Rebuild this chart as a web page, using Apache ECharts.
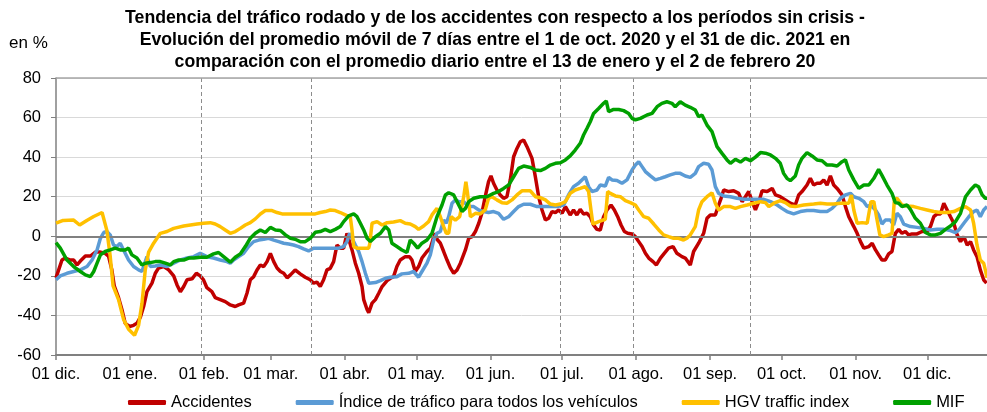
<!DOCTYPE html>
<html>
<head>
<meta charset="utf-8">
<script src="https://cdn.jsdelivr.net/npm/echarts@6/dist/echarts.min.js"></script>
<style>
  html, body { margin: 0; padding: 0; background: #fff; }
  #chart { width: 987px; height: 412px; }
</style>
</head>
<body>
<div id="chart"></div>
<script>
// x = days since 01 dic. 2020
const monthStarts = [0, 31, 62, 90, 121, 151, 182, 212, 243, 274, 304, 335, 365]
const monthLabels = ['01 dic.', '01 ene.', '01 feb.', '01 mar.', '01 abr.', '01 may.', '01 jun.',
    '01 jul.', '01 ago.', '01 sep.', '01 oct.', '01 nov.', '01 dic.']
const markerDays = [61, 107, 211.4, 241.7, 291]
const yTicks = [-60, -40, -20, 0, 20, 40, 60, 80]

const accidentes = [[0,-21],[2.5,-12],[3.9,-11],[6,-12],[7.4,-12],[8.8,-14.5],[10.2,-12.5],[12.3,-10],[14.4,-10],[16.5,-8],[18.6,-8],[20.6,-8.6],[22,-10],[23.4,-17],[24.4,-25],[26.2,-31],[27.6,-37],[29,-44],[30.8,-45.6],[32.5,-45],[33.9,-44],[35.3,-41],[36.7,-35.5],[38.1,-28],[40.2,-23.7],[41.6,-18.7],[43,-16],[45.1,-15.3],[47.2,-17],[49.3,-20],[50.7,-24.6],[52.1,-28],[53.5,-25.4],[54.9,-22],[57,-21.5],[58.8,-18.7],[60.4,-20],
    [61.8,-22],[63.2,-26],[65.3,-28],[66.7,-31],[68.8,-32],[70.9,-33],[73,-34.7],[75.1,-35.5],[76.5,-34.7],[78.6,-33.8],[80,-28.8],[81.4,-22],[82.8,-20.4],[84.2,-17],[85.6,-14.5],[87,-15.3],[88.4,-12.8],[89.8,-8.6],[91.2,-12.8],[92.6,-16],[94,-17.8],[95.4,-18.7],[96.8,-21],[98.2,-19.5],[100.2,-17],[102.3,-19],[104.4,-20.7],[106.5,-22],[107.9,-23.7],[109.3,-23.2],[110.7,-25.4],[112.1,-22],[113.5,-17],[114.9,-16.2],[116.3,-12.8],[117.7,-4.4],[119.1,-6],[120.5,-6],[121.9,1.5],[122.6,1.9],[124,-6.9],[125.4,-13.6],[126.8,-18.7],
    [128.2,-25.4],[128.9,-32],[130.3,-37],[131,-38.6],[132.4,-33.8],[133.8,-32],[135.2,-28.8],[136.6,-25.4],[138.7,-22.4],[140.1,-21.2],[141.4,-20.4],[142.8,-15.3],[144.2,-12],[146.3,-10.3],[148.1,-10.3],[149.1,-12],[150.5,-17.8],[151.9,-15.3],[153.3,-11],[155.4,-7.7],[156.8,-6],[158.2,-0.5],[158.9,1.5],[159.6,-1.5],[161,-3.5],[162.4,-7.7],[163.8,-12],[165.2,-16],[166.6,-18.7],[168,-17],[169.4,-13.6],[171.5,-6.9],[172.9,-1],[174.3,-0.2],[175.7,2.4],[177.1,6.6],[178.4,11.6],[179.8,20],[181.2,27.6],[182.2,30.5],[183.3,26.8],[184.7,23.4],[186.1,20.9],[187.5,19.2],[188.9,20],[190.3,28.5],[191.7,40.2],[193.1,44.4],[194.5,47.8],[195.9,48.7],[197.3,45.3],
    [199.4,39.4],[200.8,30.1],[202.2,20],[203.6,13.3],[205,8.2],[206.4,9.1],[207.8,12.5],[209.2,12],[210.6,13.3],[212,11.6],[213.4,15],[215.4,10.8],[216.8,13.3],[218.2,10.8],[219.6,13.6],[221,11.3],[222.4,11.6],[223.8,9.9],[225.2,5.7],[226.6,3.5],[228,3.2],[229.4,9.9],[230.8,13.3],[232.5,15.8],[233.9,13.3],[235.3,9.9],[236.7,5.7],[238.1,2.4],[239.5,1.5],[241.3,1.2],[242.7,-0.2],[244.1,-2.7],[245.5,-5.2],[246.9,-8.6],[248.3,-11],[250.1,-12.8],[251.5,-14.5],[253.2,-11],[254.8,-8.6],[256.6,-6],[258.5,-5.2],[260.1,-8.6],[262.2,-10.3],[263.6,-11],[265.7,-14.5],
    [267.1,-7.7],[269.2,-3.5],[271.3,1.5],[272.7,9.1],[274.1,10.8],[276.2,10.8],[277.6,15.8],[278.6,19.2],[279.7,23.4],[281.8,22.6],[283.9,23],[286,21.7],[287.4,17.5],[288.8,20],[290.2,22.6],[291.6,17.5],[293,13.3],[294.4,17.5],[295.8,23],[297.9,22.6],[300,24.2],[301.4,20.9],[303.4,20],[305.5,18.4],[307.6,16.7],[309.7,15.8],[311.1,20.9],[312.5,22.6],[314.6,25.9],[316,29.3],[317.4,25.9],[318.8,26.8],[320.2,26.8],[321.6,28.5],[323,25.9],[324.4,30.5],
    [325.8,25.9],[327.2,24.2],[329.3,20.9],[330.7,15],[332.1,9.9],[334.2,4.9],[335.6,1.5],[337,-2.7],[338.4,-6],[340.5,-5.2],[341.9,-3.5],[343.3,-6.9],[344.6,-9.4],[346,-12],[347.4,-12],[348.8,-8.9],[350.2,-7.7],[351.6,1.5],[353,3.5],[354.4,1.5],[355.8,2.4],[357.2,0.7],[358.6,1.2],[360.7,1.2],[362.8,2.4],[364.9,2.4],[366.3,4.9],[367.7,9.9],[369.1,11.3],[370.5,11.3],[371.9,16.7],[373.3,13.3],[374.7,9.9],[376.1,6.6],[377.5,0.7],[378.9,-2.7],[380.3,-0.2],[381.7,-4.4],[383.1,-2.7],[384.4,-6.9],[385.8,-10.3],[387.2,-17],[388.6,-22],[389.8,-23.7]]

const indiceTrafico = [[0,-22],[1.8,-20],[4.6,-18.7],[7.4,-17.8],[10.2,-17],[13,-15.3],[15.1,-12],[17.2,-6.9],[18.6,-1],[20,1.9],[21.3,2.4],[22.7,0.7],[24.1,-4.4],[25.5,-5.2],[26.9,-3.5],[28.3,-6.9],[30.4,-12],[32.5,-15.3],[34.6,-17],[36,-17.8],[38.1,-10.3],[39.5,-15.3],[41.6,-15],[43.7,-14.5],[46.5,-15.3],[49.3,-13.6],[52.1,-12],[54.9,-11],[57.7,-10.3],[60.4,-8.6],
    [63.2,-10.3],[66,-11],[68.8,-12],[71.6,-12.8],[73,-13.6],[74.4,-12],[76.5,-10.3],[78.6,-8.6],[80.7,-5.2],[82.8,-2.7],[84.9,-1.9],[87,-1.5],[89.1,-1],[91.2,-1.9],[93.3,-2.7],[95.4,-3.5],[97.5,-3.9],[99.5,-4.4],[101.6,-5.2],[103.7,-6.4],[105.8,-7.4],[107.9,-6],[110.7,-6],[113.5,-6],[116.3,-6],[118.4,-6],[120.5,-5.2],[121.9,-2.7],[123,1.5],[124,-1],[125.4,-4.4],[126.8,-7.7],[128.2,-12.8],[129.6,-18.7],[131,-23.7],[131.7,-24.6],
    [133.8,-23.4],[135.9,-22.4],[138,-21.2],[140.1,-20.7],[142.8,-20.4],[144.9,-19],[147.7,-18.7],[149.8,-17.8],[151.9,-20.7],[153.3,-17.8],[155.4,-13.6],[156.8,-9.4],[158.2,-1.9],[159.6,1.5],[161,2.4],[162.4,8.2],[163.5,6.6],[164.5,9.9],[165.9,16.7],[167.3,18.4],[168.7,17.5],[170.8,17.5],[172.9,15],[175,15],[177.1,13.3],[179.1,12.5],[181.2,12],[183.3,12.5],[185.4,11.6],[187.5,8.6],[189.6,9.9],[191.7,12.5],[193.8,15],[195.9,16.2],[198.7,16.2],
    [201.5,15],[204.3,15],[207.1,15],[209.9,15],[212.7,15.8],[214.7,20.9],[216.8,25.1],[218.9,26.8],[220.3,28.5],[221.7,30.1],[223.1,25.1],[224.5,22.6],[226.6,23.4],[228,25.9],[230.1,25.4],[231.5,29.8],[232.9,28.5],[235,28.2],[237.1,26.8],[239.2,28.5],[241.3,33.5],[242.7,36],[244.1,37.7],[245.5,35.2],[246.9,32.7],[249,30.5],[251.1,28.5],[253.2,29.3],[255.2,30.1],[257.3,31],[259.4,31.8],[261.5,31.8],[263.6,30.5],[265.7,29.8],
    [267.8,31.8],[269.2,35.2],[271.3,36.9],[273.4,36.4],[274.8,33.5],[276.2,25.1],[277.6,21.7],[279.7,20.4],[282.5,20],[285.3,19.2],[288.1,18.7],[290.9,18.7],[293.7,18.7],[296.5,18.7],[299.3,17.5],[302.1,15.8],[304.1,14.1],[306.2,12.5],[309,11.3],[311.8,12.5],[314.6,13],[317.4,13],[320.2,12.5],[323,12.5],[325.1,14.1],[327.2,16.7],
    [328.6,19.2],[330.7,20.9],[332.8,21.7],[334.2,20],[336.3,19.2],[338.4,17.5],[339.8,15],[341.2,15.8],[343.3,13.3],[344.6,10.8],[346,6.2],[347.4,8.2],[349.5,8.2],[350.9,5.7],[352.3,11.6],[353.7,9.9],[355.1,6.2],[357.9,4.9],[360.7,4.5],[363.5,4],[366.3,3.2],[369.1,3.5],[371.9,3.5],[374.7,2.9],[376.8,1.9],[378.2,3.2],[380.3,6.6],[382.4,9.9],[384.4,12.5],[385.8,13.3],[387.2,9.9],[388.6,13.3],[390,15]]

const hgvIndex = [[0,6.6],[3,8],[7.4,8.2],[9.9,5.7],[12.9,8],[15.8,10],[19.3,12],[21.3,3],[22.7,-10],[23.9,-25],[26.2,-32],[28.3,-42],[30.4,-47],[32.9,-50],[34.6,-45],[36,-34],[37.4,-17],[38.8,-8],[40.9,-3.5],[43.7,1.5],[46.5,2.4],[49.3,4],[53.5,5.2],[56.3,5.7],[59.1,6.2],[61.8,6.6],
    [62.5,6.2],[64.6,6.9],[66.7,6.2],[68.8,4.9],[70.9,3.2],[73,1.5],[75.1,2.4],[77.2,4],[79.3,5.7],[81.4,6.9],[83.5,8.8],[85.6,11.3],[87.7,13],[90.5,13],[92.6,12],[94.7,11.3],[97.5,11.3],[101,11.3],[105.1,11.3],[108.6,11.3],[110.7,12],[112.8,12.5],[114.9,13.3],[117,13],[119.1,12],[121.2,10.8],[123.3,9.6],[124,3.2],[124.7,-5.2],[126.1,-6],[128.9,-6],[131,-6],
    [131.4,-4],[132.4,6.6],[134.5,7.4],[136.6,5.7],[138.7,6.9],[141.4,7.2],[144.2,7.9],[146.3,6.6],[148.4,6.2],[150.5,4.9],[151.9,3.5],[154,5.2],[156.1,7.4],[157.5,10.8],[159.6,14.1],[161,9.9],[162.4,4.9],[163.5,1.5],[164.5,1.5],[165.5,9.9],[167.3,8.2],[169.1,9.9],[170.8,20],[171.7,27.6],[172.4,21.7],[173.6,9.9],[175.7,11.6],[177.7,11.3],[179.8,13.3],[181.2,19.2],[182.6,20],[184.7,18.4],[186.8,17],[188.9,16.7],[191,18.4],[193.1,20.9],[195.2,23],[197.3,23],[198.7,23],
    [200.8,20],[202.9,19.5],[205,18.4],[207.1,16.3],[209.2,15.8],[211.3,16.3],[213.4,17.5],[215.4,21.7],[217.5,23.4],[219.6,24.2],[221.7,25.1],[223.1,22.6],[224.1,13.3],[224.9,6.2],[227.3,7.4],[230.1,8.6],[231.1,22.6],[232.2,21.7],[234.3,20.4],[236.4,20],[238.5,18],[240.6,17],[242.7,15.8],[244.1,13.3],[246.2,9.9],[248.3,9.1],[250.4,6.2],[252.5,3.2],[254.5,0.7],[256.6,-0.2],[258.7,-1],[260.8,-1],[262.9,-1.9],[264.3,-1],[265.7,0.7],
    [267.8,4.9],[269.2,13.3],[270.6,17.5],[272.7,20],[274.8,22],[276.2,16.7],[277.6,13.3],[279.7,15],[282.5,15],[284.6,14.1],[286.7,15],[289.5,15.8],[292.3,16.7],[295.1,17.5],[297.2,17],[298.6,15],[300.7,16.7],[303.4,18],[305.5,17],[307.6,15.3],[309.7,15],[313.2,15.8],[317.4,16.3],[320.2,16.7],[323,16.3],[325.8,16.3],[328.6,16.7],[332.1,16.7],
    [333.2,20.9],[334.2,13.3],[335.6,6.6],[337.7,6.9],[339.8,6.6],[341.4,17.5],[342.6,17.5],[343.7,9.9],[345.1,0.7],[346.7,-0.2],[348.8,0.7],[350.2,1.5],[351.2,18.4],[352.3,19.2],[354.4,15.8],[356.5,15.3],[359.3,15],[362.1,14.1],[364.9,13.3],[367.7,12.5],[370.5,12],[373.3,12],[376.1,12.5],[378.9,14.1],[381,15],[383.1,13.3],[384.4,6.6],[385.8,-4.4],[387.2,-12],[388.6,-13.6],[389.3,-17],[390,-21]]

const mif = [[0,-3.2],[1.8,-6],[4.6,-12],[7.4,-15.3],[10.2,-17.8],[12.3,-19.5],[14.4,-20.4],[15.8,-17.8],[17.2,-13.6],[18.6,-9.4],[20.6,-7.7],[22.7,-6.9],[24.8,-6],[26.9,-6.9],[29,-6.9],[30.4,-6],[31.8,-9.4],[33.9,-11],[36,-14.5],[37.4,-13.6],[39.5,-13.3],[41.6,-12.8],[43.7,-12.8],[45.8,-13.6],[47.9,-14.5],[49.3,-12.8],[51.4,-12],[53.5,-12],[55.6,-11],[57.7,-11],[60.4,-10.6],
    [63.2,-10.6],[66,-8.9],[68.1,-8.2],[70.2,-10.3],[73,-13.1],[75.1,-10.6],[77.2,-8.9],[79.3,-5.2],[81.4,-1],[83.5,1.5],[85.6,3.2],[87.7,1.9],[89.8,4.5],[91.9,3.2],[94,2.9],[96.1,0.7],[98.2,-1],[100.2,-1.5],[102.3,-2.7],[104.4,-2.7],[106.5,-1],[108.6,2],[110.7,2.4],[112.8,3.5],[114.9,2.4],[117,3.5],[119.1,4.9],[120.5,7.4],[122.6,10.3],[124.7,11.3],[126.1,9.9],[127.5,6.6],[128.9,3.2],[130.3,-1],[131.7,-2.7],
    [133.8,-0.2],[135.9,1.5],[138,4.9],[139.4,3.2],[140.7,-3.5],[142.8,-5.2],[144.9,-6.9],[147,-8.2],[148.4,-1.9],[149.8,-3.5],[151.5,-6],[153.3,-3.5],[155.4,-1.9],[157.5,1.5],[159.6,9.9],[161.7,15.8],[163.1,20.9],[164.5,22],[166.6,20.9],[168,17.5],[170.1,12.5],[171.5,14.1],[172.9,17.5],[175,19.2],[177.7,20],[180.5,20],[183.3,21.7],[185.4,22.6],[187.5,24.2],[189.6,25.9],[191.7,30.1],[193.8,34.3],[195.9,35.5],[198.7,34.8],
    [200.8,33.5],[202.9,33.2],[205,34.3],[207.1,36],[209.2,36.9],[211.3,37.2],[213.4,38.6],[215.4,40.6],[217.5,43.6],[219.6,47],[221,51.2],[222.4,54.5],[223.8,57.9],[225.2,62.1],[227.3,64.6],[229.4,67.2],[230.5,68.4],[231.5,63],[233.6,64.1],[235.7,64.1],[237.8,63.5],[239.9,62.1],[241.3,59.6],[242.7,58.8],[244.8,59.6],[247.6,61.3],[249.7,62.1],[251.8,65.5],[253.8,67.2],[255.9,68],[258,67.2],[259.4,65.5],[261.5,68],[263.6,66.3],[265.7,65.2],
    [267.8,63.8],[269.2,60.4],[270.6,61.3],[272.7,56.2],[274.8,52.9],[276.9,45.3],[279,41.9],[281.1,38.6],[282.5,36.9],[284.6,38.9],[286.7,37.5],[288.8,39.4],[290.9,38.2],[293,40],[295.1,42.3],[297.2,42],[299.3,41.1],[301.4,39.4],[303.4,36.9],[304.8,31.8],[306.2,29.3],[307.6,28.1],[309.7,30.5],[311.1,36],[312.5,39.4],[314.6,42.3],[316.7,40.6],[318.8,38.6],[320.9,38.2],[323,36],[325.1,36],[327.2,35.5],[329.3,37.7],[330.7,38.6],[332.1,33.5],
    [334.2,28.5],[336.3,24.2],[338.4,25.9],[340.5,25.9],[342.6,29.3],[344.6,33.8],[346,30.8],[348.1,25.9],[350.2,21.7],[351.6,17],[353,16.7],[354.4,15],[356.5,15.8],[357.9,13.6],[360,9.1],[362.1,6.6],[364.2,1.9],[366.3,0.7],[368.4,0.7],[370.5,1.5],[372.6,3.5],[374.7,5.2],[376.8,7.4],[378.9,11.6],[381,20],[383.1,23.4],[385.1,25.9],[386.5,25],[388,20.9],[389.3,19.2],[390,19.2]]

const nameList = ['Accidentes', 'Índice de tráfico para todos los vehículos', 'HGV traffic index', 'MIF']
const color = ['#C00000', '#5B9BD5', '#FFC000', '#00A000']
const seriesData = [accidentes, indiceTrafico, hgvIndex, mif]

const font = 'Arial, "Liberation Sans", sans-serif'

let seriesArr = []
seriesData.forEach((data, i) => {
    let obj = {
        name: nameList[i],
        type: 'line',
        data: data,
        color: color[i],
        symbol: 'none',
        lineStyle: { width: 3.5, color: color[i] },
        z: 3 + i,
    }
    if (i === 0) {
        obj.markLine = {
            silent: true,
            symbol: 'none',
            label: { show: false },
            animation: false,
            data: [
                ...markerDays.map(d => ({ xAxis: d, lineStyle: { color: '#8c8c8c', type: [4, 3], width: 1 } })),
                { yAxis: 0, lineStyle: { color: '#808080', type: 'solid', width: 2 } },
                { yAxis: 80, lineStyle: { color: '#a6a6a6', type: 'solid', width: 1.5 } },
            ],
        }
    }
    seriesArr.push(obj)
})

const option = {
    animation: false,
    textStyle: { fontFamily: font },
    title: {
        text: 'Tendencia del tráfico rodado y de los accidentes con respecto a los períodos sin crisis -\nEvolución del promedio móvil de 7 días entre el 1 de oct. 2020 y el 31 de dic. 2021 en\ncomparación con el promedio diario entre el 13 de enero y el 2 de febrero 20',
        left: 495,
        top: 7,
        padding: 0,
        textAlign: 'center',
        textStyle: { fontFamily: font, fontSize: 17.7, fontWeight: 'bold', color: '#000', lineHeight: 22 },
    },
    graphic: [{
        type: 'text',
        left: 9,
        top: 35,
        style: { text: 'en %', font: '17px ' + font, fill: '#000' },
    }],
    legend: {
        left: 128,
        top: 394,
        padding: 0,
        icon: 'roundRect',
        itemWidth: 38,
        itemHeight: 5,
        itemGap: 44,
        textStyle: { fontFamily: font, fontSize: 16.5, color: '#000' },
        data: nameList,
    },
    grid: { left: 56, right: 0, top: 78, bottom: 57, containLabel: false },
    xAxis: {
        type: 'value',
        min: 0,
        max: 390,
        splitLine: { show: false },
        axisLine: { onZero: false, lineStyle: { color: '#808080', width: 2 } },
        axisTick: { customValues: monthStarts, length: 5, lineStyle: { color: '#808080', width: 1.5 } },
        axisLabel: {
            customValues: monthStarts,
            margin: 11,
            fontSize: 16.5,
            color: '#000',
            formatter: v => monthLabels[monthStarts.indexOf(v)],
        },
    },
    yAxis: {
        type: 'value',
        min: -60,
        max: 80,
        interval: 20,
        axisLine: { show: true, lineStyle: { color: '#808080', width: 1.5 } },
        axisTick: { show: true, length: 5, lineStyle: { color: '#808080' } },
        axisLabel: { margin: 15, fontSize: 16.5, color: '#000' },
        splitLine: { show: true, lineStyle: { color: '#d9d9d9', width: 1 } },
    },
    series: seriesArr,
}

const myChart = echarts.init(document.getElementById('chart'), null, { renderer: 'canvas' })
myChart.setOption(option)
</script>
</body>
</html>
